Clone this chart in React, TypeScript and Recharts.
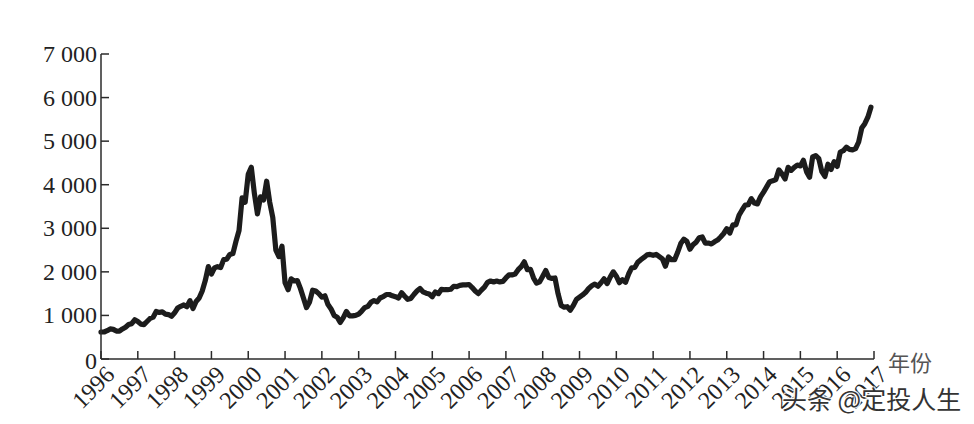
import React from "react";
import { LineChart, Line, XAxis, YAxis } from "recharts";

const y1996 = [620, 620, 650, 690, 680, 640, 640, 690, 730, 790, 810, 900];
const y1997 = [860, 800, 790, 860, 930, 960, 1090, 1070, 1080, 1030, 1020, 980];
const y1998 = [1060, 1170, 1210, 1240, 1200, 1340, 1160, 1320, 1400, 1560, 1800, 2120];
const y1999 = [1950, 2090, 2120, 2100, 2280, 2290, 2400, 2420, 2700, 2950, 3700, 3600];
const y2000 = [4240, 4400, 3800, 3330, 3720, 3650, 4080, 3600, 3250, 2500, 2350, 2590];
const y2001 = [1750, 1590, 1840, 1790, 1800, 1620, 1400, 1180, 1310, 1580, 1560, 1500];
const y2002 = [1420, 1450, 1250, 1150, 1000, 960, 840, 950, 1090, 990, 990, 1000];
const y2003 = [1030, 1100, 1180, 1210, 1300, 1340, 1310, 1400, 1430, 1480, 1480, 1450];
const y2004 = [1430, 1400, 1520, 1440, 1370, 1390, 1480, 1560, 1620, 1540, 1510, 1490];
const y2005 = [1430, 1540, 1500, 1600, 1590, 1590, 1600, 1670, 1660, 1690, 1700, 1700];
const y2006 = [1710, 1640, 1560, 1500, 1580, 1650, 1760, 1790, 1770, 1790, 1770, 1780];
const y2007 = [1860, 1930, 1930, 1950, 2050, 2120, 2230, 2050, 2060, 1860, 1740, 1770];
const y2008 = [1900, 2030, 1870, 1850, 1860, 1500, 1230, 1190, 1200, 1120, 1230, 1370];
const y2009 = [1420, 1470, 1530, 1620, 1680, 1720, 1670, 1750, 1840, 1730, 1880, 2000];
const y2010 = [1900, 1750, 1820, 1760, 1950, 2090, 2100, 2220, 2280, 2330, 2390, 2400];
const y2011 = [2380, 2400, 2350, 2300, 2130, 2340, 2280, 2280, 2450, 2650, 2750, 2700];
const y2012 = [2520, 2620, 2680, 2780, 2800, 2660, 2660, 2640, 2690, 2730, 2800, 2880];
const y2013 = [2990, 2890, 3080, 3080, 3300, 3420, 3530, 3540, 3680, 3580, 3560, 3720];
const y2014 = [3830, 3950, 4070, 4090, 4120, 4340, 4250, 4130, 4400, 4330, 4400, 4450];
const y2015 = [4430, 4560, 4300, 4170, 4640, 4670, 4600, 4300, 4190, 4470, 4350, 4530];
const y2016 = [4420, 4750, 4780, 4860, 4810, 4800, 4830, 4980, 5300, 5400, 5550, 5780];

const yearlySeries = [
  y1996, y1997, y1998, y1999, y2000, y2001, y2002, y2003, y2004, y2005, y2006,
  y2007, y2008, y2009, y2010, y2011, y2012, y2013, y2014, y2015, y2016,
];
const startYear = 1996;
const xTicks = [
  1996, 1997, 1998, 1999, 2000, 2001, 2002, 2003, 2004, 2005, 2006, 2007, 2008,
  2009, 2010, 2011, 2012, 2013, 2014, 2015, 2016, 2017,
];
const yTicks = [0, 1000, 2000, 3000, 4000, 5000, 6000, 7000];
const xUnit = "年份";
const watermark = "头条 @定投人生";

const table = yearlySeries.flatMap((vals, yi) =>
  vals.map((value, m) => ({ t: startYear + yi + m / 12, value }))
);

const INK = "#2b2b2b";
const SERIF = "'Liberation Serif', serif";
const CJK = "'Noto Sans CJK SC', sans-serif";

const fmt = (v: number) => (v >= 1000 ? `${Math.floor(v / 1000)} 000` : String(v));

const XTick = (p: any) => {
  const { x, y, payload } = p;
  return (
    <g>
      <line x1={x} x2={x} y1={y} y2={y - 8} stroke={INK} strokeWidth={1.5} />
      <text
        x={x + 15}
        y={y + 17}
        transform={`rotate(-45 ${x + 15} ${y + 17})`}
        textAnchor="end"
        fontFamily={SERIF}
        fontSize={24}
        fill="#222"
      >
        {payload.value}
      </text>
    </g>
  );
};

const YTick = (p: any) => {
  const { x, y, payload } = p;
  return (
    <g>
      <line x1={x} x2={x + 8} y1={y} y2={y} stroke={INK} strokeWidth={1.5} />
      <text
        x={x - 4}
        y={y + (payload.value === 0 ? 10 : 8)}
        textAnchor="end"
        fontFamily={SERIF}
        fontSize={24}
        fill="#222"
      >
        {fmt(payload.value)}
      </text>
    </g>
  );
};

export default function App() {
  return (
    <div style={{ position: "absolute", left: 0, top: 0, width: 974, height: 424, background: "#fff", overflow: "hidden" }}>
      <LineChart
        width={974}
        height={424}
        data={table}
        margin={{ left: 0, right: 100, top: 54, bottom: 0 }}
      >
        <XAxis
          dataKey="t"
          type="number"
          domain={[1996, 2017]}
          ticks={xTicks}
          interval={0}
          height={65}
          tickSize={0}
          tickMargin={0}
          tick={<XTick />}
          tickLine={false}
          axisLine={{ stroke: INK, strokeWidth: 1.5 }}
        />
        <YAxis
          type="number"
          domain={[0, 7000]}
          ticks={yTicks}
          interval={0}
          width={101}
          tickSize={0}
          tickMargin={0}
          tick={<YTick />}
          tickLine={false}
          axisLine={{ stroke: INK, strokeWidth: 1.5 }}
        />
        <Line
          dataKey="value"
          type="linear"
          stroke="#1c1c1c"
          strokeWidth={5.2}
          strokeLinejoin="round"
          strokeLinecap="round"
          dot={false}
          isAnimationActive={false}
        />
      </LineChart>
      <div style={{ position: "absolute", left: 888, top: 347, fontFamily: CJK, fontSize: 22, color: "#555", lineHeight: "28px" }}>
        {xUnit}
      </div>
      <div
        style={{
          position: "absolute",
          left: 782,
          top: 382,
          fontFamily: CJK,
          fontSize: 25,
          lineHeight: "32px",
          color: "#333",
          whiteSpace: "pre",
          textShadow: "1px 1px 1px #fff, -1px -1px 1px #fff, 1px -1px 1px #fff, -1px 1px 1px #fff",
        }}
      >
        {watermark}
      </div>
    </div>
  );
}
